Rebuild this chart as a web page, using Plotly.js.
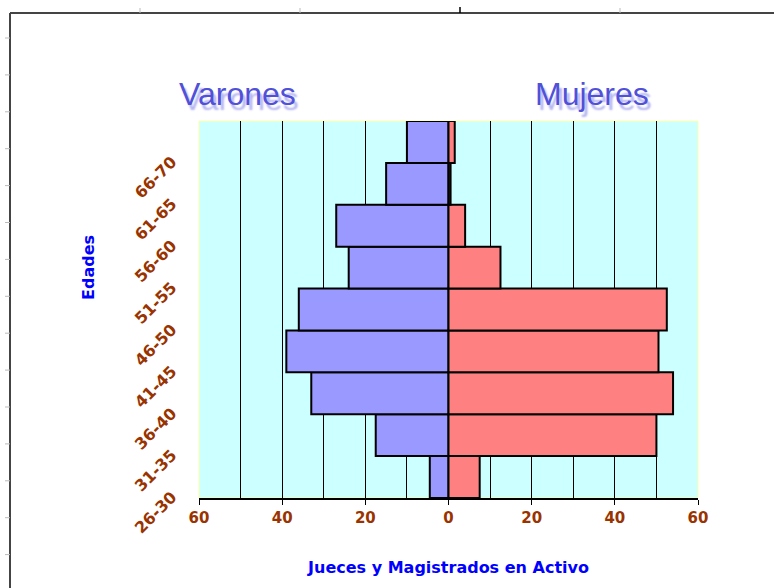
<!DOCTYPE html>
<html>
<head>
<meta charset="utf-8">
<script src="https://cdn.plot.ly/plotly-3.0.1.min.js"></script>
<style>html,body{margin:0;padding:0;background:#fff;}#chart{width:774px;height:588px;}</style>
</head>
<body>
<div id="chart"></div>
<script>
// Data
const edades = ['26-30','31-35','36-40','41-45','46-50','51-55','56-60','61-65','66-70'];
const varones = [4.5, 17.5, 33, 39, 36, 24, 27, 15, 10];
const mujeres = [7.5, 50, 54, 50.5, 52.5, 12.5, 4, 0.5, 1.5];
const xTickVals = [-60, -40, -20, 0, 20, 40, 60];
const xTickText = ['60', '40', '20', '0', '20', '40', '60'];

const W = 774, H = 588;
const L = 199, R = 76, T = 121, B = 90;
const pw = W - L - R, ph = H - T - B;
const px = x => (x - L) / pw;
const py = y => 1 - (y - T) / ph;

const traces = [
  {
    type: 'bar', orientation: 'h', name: 'Varones',
    y: edades, x: varones.map(v => -v),
    marker: {color: '#9999ff', line: {color: '#000', width: 2}},
    hoverinfo: 'skip'
  },
  {
    type: 'bar', orientation: 'h', name: 'Mujeres',
    y: edades, x: mujeres,
    marker: {color: '#ff8080', line: {color: '#000', width: 2}},
    hoverinfo: 'skip'
  }
];

const shapes = [
  {type: 'line', xref: 'paper', yref: 'paper', x0: px(10), x1: px(774), y0: py(13), y1: py(13), line: {color: '#444', width: 2}},
  {type: 'line', xref: 'paper', yref: 'paper', x0: px(10), x1: px(10), y0: py(13), y1: py(588), line: {color: '#444', width: 2}},
  {type: 'rect', xref: 'paper', yref: 'paper', x0: 0, x1: 1, y0: 0, y1: 1, line: {color: '#ffffaa', width: 1}, layer: 'below'}
];
[140, 300, 620].forEach(x => shapes.push({type: 'line', xref: 'paper', yref: 'paper', x0: px(x), x1: px(x), y0: py(8), y1: py(13), line: {color: '#bbb', width: 1}}));
shapes.push({type: 'line', xref: 'paper', yref: 'paper', x0: px(460), x1: px(460), y0: py(7), y1: py(13), line: {color: '#000', width: 1.5}});
for (let y = 38; y < 588; y += 36.9) {
  shapes.push({type: 'line', xref: 'paper', yref: 'paper', x0: px(5), x1: px(10), y0: py(y), y1: py(y), line: {color: '#bbb', width: 1}});
}

const titleFont = c => ({family: 'Liberation Sans, Arial, sans-serif', size: 32, color: c, shadow: '3px 5px 2px #b4b4f2'});
const annotations = [
  {text: 'Varones', xref: 'paper', yref: 'paper', x: px(237), y: py(94), showarrow: false, font: titleFont('#5050d8'), xanchor: 'center', yanchor: 'middle'},
  {text: 'Mujeres', xref: 'paper', yref: 'paper', x: px(592), y: py(94), showarrow: false, font: titleFont('#5050d8'), xanchor: 'center', yanchor: 'middle'},
  {text: 'Edades', xref: 'paper', yref: 'paper', x: px(88), y: py(268), showarrow: false, textangle: -90, xanchor: 'center', yanchor: 'middle',
    font: {family: 'DejaVu Sans, sans-serif', size: 16, color: '#0000ff', weight: 'bold'}}
];

const layout = {
  width: W, height: H,
  margin: {l: L, r: R, t: T, b: B, pad: 0},
  paper_bgcolor: '#ffffff',
  plot_bgcolor: '#ccffff',
  barmode: 'relative',
  bargap: 0,
  showlegend: false,
  xaxis: {
    range: [-60, 60],
    tickvals: xTickVals, ticktext: xTickText,
    ticks: 'outside', ticklen: 5, tickcolor: '#000', tickwidth: 1,
    showline: true, linecolor: '#000', linewidth: 1.5,
    showgrid: true, gridcolor: '#000', gridwidth: 1,
    minor: {dtick: 10, tick0: 0, showgrid: true, gridcolor: '#000', gridwidth: 1, ticks: ''},
    zeroline: false,
    tickfont: {family: 'DejaVu Sans, sans-serif', size: 15, color: '#993300', weight: 'bold'},
    title: {text: 'Jueces y Magistrados en Activo', standoff: 36,
      font: {family: 'DejaVu Sans, sans-serif', size: 16, color: '#0000ff', weight: 'bold'}},
    fixedrange: true
  },
  yaxis: {
    type: 'category',
    showgrid: false, zeroline: false, showline: false,
    ticks: '',
    tickangle: -45,
    ticklabelshift: 18,
    ticklabelstandoff: 26,
    tickfont: {family: 'DejaVu Sans, sans-serif', size: 16, color: '#993300', weight: 'bold'},
    fixedrange: true
  },
  shapes: shapes,
  annotations: annotations
};

Plotly.newPlot('chart', traces, layout, {displayModeBar: false, staticPlot: true});
</script>
</body>
</html>
